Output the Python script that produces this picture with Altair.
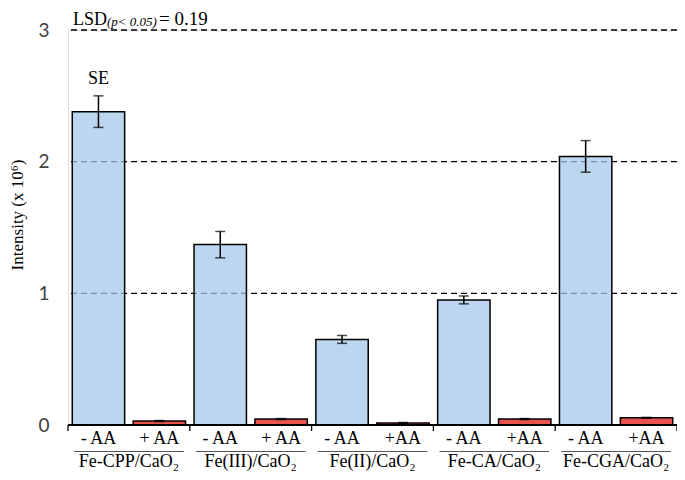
import altair as alt
import pandas as pd

# ---- data ----
groups = ["Fe-CPP/CaO₂", "Fe(III)/CaO₂", "Fe(II)/CaO₂", "Fe-CA/CaO₂", "Fe-CGA/CaO₂"]
bar_labels = ["- AA", "+ AA", "- AA", "+ AA", "- AA", "+AA", "- AA", "+AA", "- AA", "+AA"]
minus_aa = [2.38, 1.37, 0.65, 0.95, 2.04]
minus_aa_se = [0.12, 0.10, 0.03, 0.03, 0.12]
plus_aa = [0.03, 0.045, 0.015, 0.045, 0.055]
plus_aa_se = [0.004, 0.004, 0.004, 0.004, 0.003]
y_ticks = [0, 1, 2, 3]
grid_values = [1, 2, 3]
boundaries = [0, 1, 2, 3, 4, 5]

# ---- tables ----
rows = []
for i, g in enumerate(groups):
    for j, (t, v, e) in enumerate([("-", minus_aa[i], minus_aa_se[i]), ("+", plus_aa[i], plus_aa_se[i])]):
        k = 2 * i + j
        rows.append(dict(bar=f"b{k}", label=bar_labels[k], group=g, treat=t,
                         value=v, err=e, lo=v - e, hi=v + e))
df = pd.DataFrame(rows)
bar_ids = list(df["bar"])
gdf = pd.DataFrame({"group": groups})
grid_df = pd.DataFrame({"g": grid_values})
sep_df = pd.DataFrame({"s": boundaries})

W, H = 609, 395
serif = "Liberation Serif"

xbar = alt.Scale(domain=bar_ids, paddingInner=0.14, paddingOuter=0.07)
xgrp = alt.Scale(domain=groups, paddingInner=0.1, paddingOuter=0.05)
yscale = alt.Scale(domain=[0, 3], nice=False, zero=True)

base = alt.Chart(df)

grid = alt.Chart(grid_df).mark_rule(color="black", strokeWidth=1.3, strokeDash=[6, 4]).encode(
    y=alt.Y("g:Q", scale=yscale,
            axis=alt.Axis(values=y_ticks, title=None, domain=False, ticks=False, grid=False,
                          labelFont="Lato", labelFontSize=19, labelColor="#404040",
                          labelPadding=19, format="d"))
)

bars = base.mark_bar(stroke="black", strokeWidth=1.5).encode(
    x=alt.X("bar:N", scale=xbar, axis=None),
    y=alt.Y("value:Q", scale=yscale),
    color=alt.Color("treat:N", scale=alt.Scale(domain=["-", "+"], range=["#A1C6E7", "#E9524F"]), legend=None),
    fillOpacity=alt.FillOpacity("treat:N", scale=alt.Scale(domain=["-", "+"], range=[0.72, 1.0]), legend=None),
)

err = base.mark_rule(color="black", strokeWidth=1.5).encode(
    x=alt.X("bar:N", scale=xbar, axis=None),
    y=alt.Y("lo:Q", scale=yscale),
    y2="hi:Q",
)
cap_lo = base.mark_tick(color="black", size=10, thickness=1.5).encode(
    x=alt.X("bar:N", scale=xbar, axis=None),
    y=alt.Y("lo:Q", scale=yscale),
)
cap_hi = base.mark_tick(color="black", size=10, thickness=1.5).encode(
    x=alt.X("bar:N", scale=xbar, axis=None),
    y=alt.Y("hi:Q", scale=yscale),
)

se_text = alt.Chart(df.iloc[[0]]).mark_text(font=serif, fontSize=18, color="black", dy=-12,
                                            baseline="alphabetic").encode(
    x=alt.X("bar:N", scale=xbar, axis=None),
    y=alt.Y("hi:Q", scale=yscale),
    text=alt.value("SE"),
)

bar_text = base.mark_text(font=serif, fontSize=18, color="black", baseline="alphabetic").encode(
    x=alt.X("bar:N", scale=xbar, axis=None),
    y=alt.value(414),
    text="label:N",
)

underline = alt.Chart(gdf).mark_bar(color="#555555").encode(
    x=alt.X("group:N", scale=xgrp, axis=None),
    y=alt.value(421),
    y2=alt.value(422),
)
group_text = alt.Chart(gdf).mark_text(font=serif, fontSize=18, color="black", baseline="alphabetic").encode(
    x=alt.X("group:N", scale=xgrp, axis=None),
    y=alt.value(437),
    text="group:N",
)

xdomain = alt.Chart(sep_df).mark_rule(color="black", strokeWidth=1.3).encode(
    y=alt.value(H),
)
seps = alt.Chart(sep_df).mark_rule(color="black", strokeWidth=1.3).encode(
    x=alt.X("s:Q", scale=alt.Scale(domain=[0, 5], nice=False, zero=False), axis=None),
    y=alt.value(H),
    y2=alt.value(H + 6),
)

ann = pd.DataFrame({"k": [0]})
lsd1 = alt.Chart(ann).mark_text(font=serif, fontSize=18, align="left", baseline="alphabetic").encode(
    x=alt.value(5), y=alt.value(-5), text=alt.value("LSD"))
lsd2 = alt.Chart(ann).mark_text(font=serif, fontSize=13, fontStyle="italic", align="left",
                                baseline="alphabetic").encode(
    x=alt.value(39), y=alt.value(-4), text=alt.value("(p< 0.05)"))
lsd3 = alt.Chart(ann).mark_text(font=serif, fontSize=19, align="left", baseline="alphabetic").encode(
    x=alt.value(91), y=alt.value(-5), text=alt.value("= 0.19"))

ytitle = alt.Chart(ann).mark_text(font=serif, fontSize=17, angle=270, align="center",
                                  baseline="middle").encode(
    x=alt.value(-50), y=alt.value(185), text=alt.value("Intensity (x 10⁶)"))

chart = alt.layer(
    grid, bars, err, cap_lo, cap_hi, se_text, bar_text, underline, group_text,
    xdomain, seps, lsd1, lsd2, lsd3, ytitle
).resolve_scale(x="independent").properties(
    width=W, height=H,
    autosize=alt.AutoSizeParams(type="none"),
    padding={"left": 60, "top": 22, "right": 0, "bottom": 47},
).configure_view(stroke=None).configure(background="white")

chart.save("out.html", embed_options={"renderer": "svg", "actions": False})
